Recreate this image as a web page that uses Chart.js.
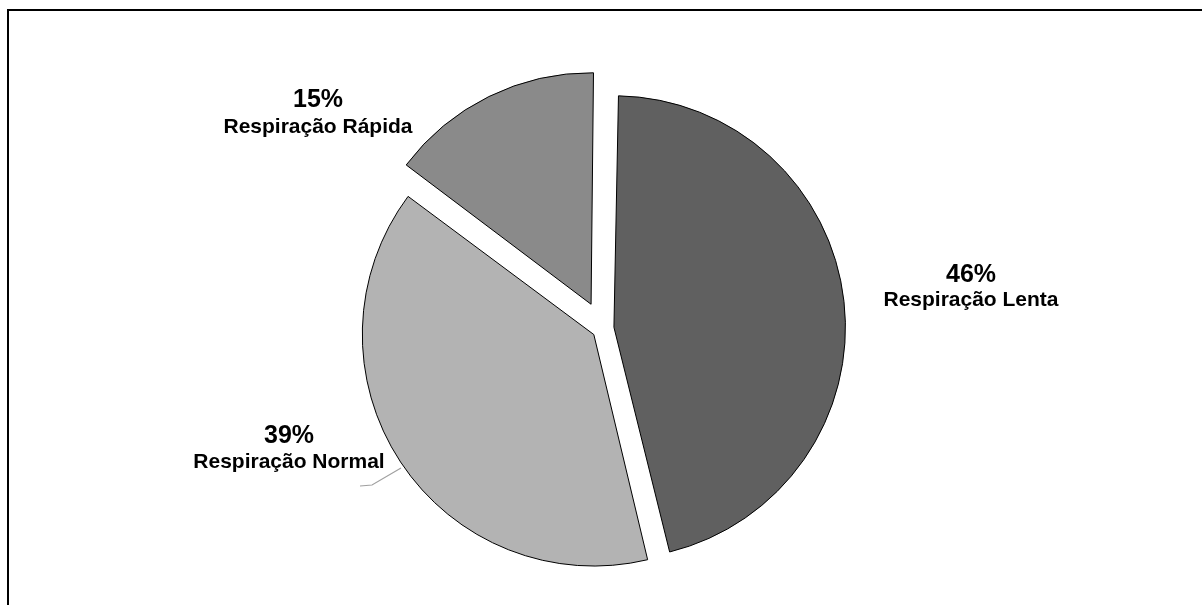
<!DOCTYPE html>
<html>
<head>
<meta charset="utf-8">
<script src="https://cdn.jsdelivr.net/npm/chart.js@4.4.0/dist/chart.umd.min.js"></script>
<style>
  html, body { margin: 0; padding: 0; background: #ffffff; overflow: hidden; }
  #wrap { position: relative; width: 1202px; height: 605px; }
</style>
</head>
<body>
<div id="wrap"><canvas id="c" width="1202" height="605"></canvas></div>
<script>
// Breathing pattern distribution
const categories = ['Respiração Lenta', 'Respiração Normal', 'Respiração Rápida'];
const percentages = [46, 39, 15];

// Styling kept apart from the data
const sliceColors = ['#606060', '#b3b3b3', '#8a8a8a'];
const sliceOffsets = [44, 44, 108];   // explode distance (Chart.js moves a slice by offset/4)

// Label anchors: centre x, baseline of the percentage line, baseline of the name line
const labelPlacement = [
  { x: 971, pct: 282, name: 306 },
  { x: 289, pct: 443, name: 468, leader: [[360, 486], [372, 485], [401, 468]] },
  { x: 318, pct: 107, name: 133 }
];

const FONT = '"Liberation Sans", Arial, sans-serif';

// Chart.js grows an exploded arc's radius a little; keep every slice at the pie radius
const keepRadius = {
  id: 'keepRadius',
  afterDatasetUpdate(chart, args) {
    args.meta.data.forEach(arc => {
      const off = (arc.options.offset || 0) / 4;
      const fix = 1 - Math.sin(Math.min(Math.PI, arc.circumference || 0));
      arc.outerRadius -= off * fix;
    });
  }
};

// Frame around the chart area
const frame = {
  id: 'frame',
  beforeDraw(chart) {
    const ctx = chart.ctx;
    ctx.save();
    ctx.strokeStyle = '#000000';
    ctx.lineWidth = 2;
    ctx.strokeRect(8, 10, 1400, 800);
    ctx.restore();
  }
};

// Percentage and category labels
const sliceLabels = {
  id: 'sliceLabels',
  afterDraw(chart) {
    const ctx = chart.ctx;
    ctx.save();
    ctx.fillStyle = '#000000';
    ctx.textAlign = 'center';
    ctx.textBaseline = 'alphabetic';
    percentages.forEach((v, i) => {
      const p = labelPlacement[i];
      if (p.leader) {
        ctx.strokeStyle = '#a0a0a0';
        ctx.lineWidth = 1.2;
        ctx.beginPath();
        p.leader.forEach((pt, k) => k ? ctx.lineTo(pt[0], pt[1]) : ctx.moveTo(pt[0], pt[1]));
        ctx.stroke();
      }
      ctx.font = 'bold 25px ' + FONT;
      ctx.fillText(v + '%', p.x, p.pct);
      ctx.font = 'bold 21px ' + FONT;
      ctx.fillText(categories[i], p.x, p.name);
    });
    ctx.restore();
  }
};

new Chart(document.getElementById('c'), {
  type: 'pie',
  data: {
    labels: categories,
    datasets: [{
      data: percentages,
      backgroundColor: sliceColors,
      borderColor: '#000000',
      borderWidth: 1,
      borderJoinStyle: 'miter',
      offset: sliceOffsets
    }]
  },
  options: {
    responsive: false,
    animation: false,
    rotation: 0.8,
    radius: 231.5,
    layout: { padding: { left: 4, right: 0, top: 52, bottom: 0 } },
    plugins: {
      legend: { display: false },
      tooltip: { enabled: false }
    },
    events: []
  },
  plugins: [frame, keepRadius, sliceLabels]
});
</script>
</body>
</html>
